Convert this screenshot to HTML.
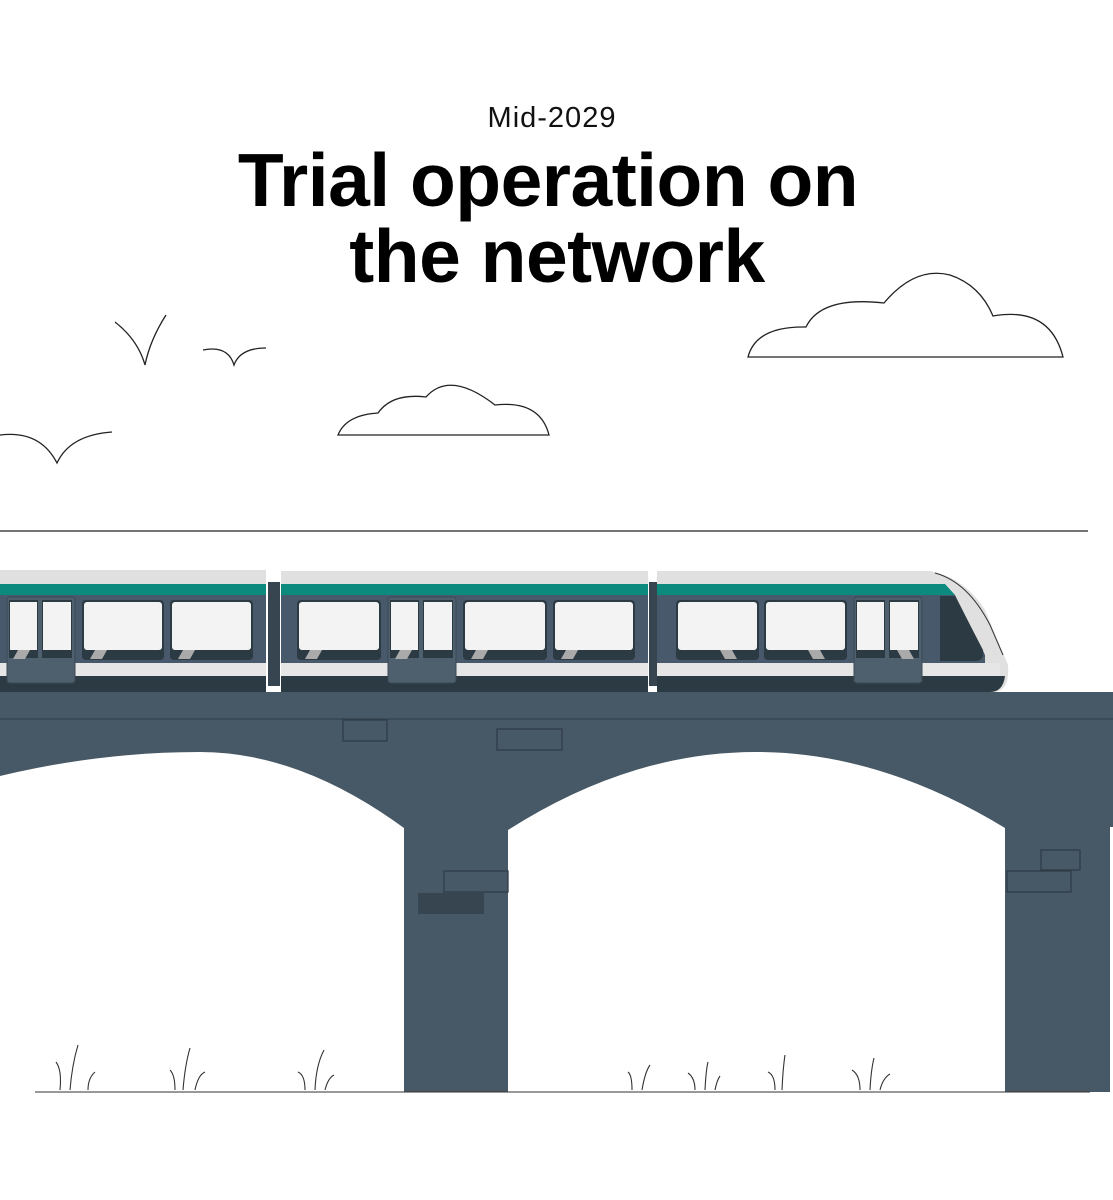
<!DOCTYPE html>
<html><head><meta charset="utf-8"><style>
html,body{margin:0;padding:0;background:#fff;width:1113px;height:1200px;overflow:hidden}
</style></head><body>
<svg width="1113" height="1200" viewBox="0 0 1113 1200" xmlns="http://www.w3.org/2000/svg">
<rect width="1113" height="1200" fill="#fff"/>
<text x="552" y="127" text-anchor="middle" font-family="Liberation Sans, sans-serif" font-size="29" letter-spacing="1" fill="#111">Mid-2029</text>
<text x="548" y="206" text-anchor="middle" font-family="Liberation Sans, sans-serif" font-weight="bold" font-size="75" fill="#000" letter-spacing="-0.5">Trial operation on</text>
<text x="557" y="282" text-anchor="middle" font-family="Liberation Sans, sans-serif" font-weight="bold" font-size="75" fill="#000" letter-spacing="-0.5">the network</text>
<g fill="none" stroke="#222" stroke-width="1.3">
<path d="M115 322 Q138 340 145 365 Q150 340 166 315"/>
<path d="M203 350 Q228 345 234 365 Q240 348 266 348"/>
<path d="M0 435 Q40 430 57 463 Q70 435 112 432"/>
<line x1="0" y1="531" x2="1088" y2="531"/>
</g>
<path d="M748 357 Q756 326 806 327 Q821 296 884 303 Q915 266 950 275 Q980 285 993 316 Q1050 306 1063 357 Z" fill="#fff" stroke="#222" stroke-width="1.3"/>
<path d="M338 435 Q346 415 378 413 Q392 393 426 397 Q450 370 495 405 Q540 400 549 435 Z" fill="#fff" stroke="#222" stroke-width="1.3"/>
<!-- bridge -->
<path d="M0 692 H1113 V827 H1110 V1092 H1005 V828 Q880 752 756 752 Q630 752 508 830 V1092 H404 V828 Q300 752 200 752 Q100 752 0 776 Z" fill="#475966"/>
<line x1="0" y1="719" x2="1113" y2="719" stroke="#33424d" stroke-width="1.2"/>
<g fill="none" stroke="#2f3d47" stroke-width="1.3">
<rect x="343" y="720" width="44" height="21"/>
<rect x="497" y="729" width="65" height="21"/>
<rect x="444" y="871" width="64" height="21"/>
<rect x="1041" y="850" width="39" height="20"/>
<rect x="1007" y="871" width="64" height="21"/>
</g>
<rect x="418" y="893" width="66" height="21" fill="#36454f"/>
<!-- ground -->
<line x1="35" y1="1092" x2="1090" y2="1092" stroke="#333" stroke-width="1"/>
<g fill="none" stroke="#333" stroke-width="1.1">
<path d="M60 1090 Q62 1070 56 1062 M70 1090 Q72 1065 78 1045 M88 1090 Q88 1078 95 1072"/>
<path d="M175 1090 Q175 1075 170 1070 M183 1090 Q185 1065 190 1048 M195 1090 Q198 1075 205 1072"/>
<path d="M305 1090 Q305 1075 298 1072 M315 1090 Q316 1065 324 1050 M325 1090 Q328 1078 334 1075"/>
<path d="M632 1090 Q632 1075 628 1072 M642 1090 Q645 1072 650 1065"/>
<path d="M695 1090 Q695 1078 688 1073 M705 1090 Q706 1070 708 1062 M715 1090 Q717 1080 720 1076"/>
<path d="M775 1090 Q775 1075 768 1072 M782 1090 Q783 1068 785 1055"/>
<path d="M860 1090 Q860 1075 852 1070 M870 1090 Q871 1070 874 1058 M880 1090 Q883 1078 890 1074"/>
</g>
<!-- train -->
<g>
<rect x="0" y="570" width="266" height="14" fill="#e0e0e0"/>
<rect x="0" y="584" width="266" height="11" fill="#0b8a7d"/>
<rect x="0" y="595" width="266" height="68" fill="#47596a"/>
<rect x="0" y="663" width="266" height="13" fill="#e6e6e6"/>
<rect x="0" y="676" width="266" height="16" fill="#2c3a44"/>
<rect x="268" y="582" width="12" height="104" fill="#36454f"/>
<rect x="281" y="571" width="367" height="13" fill="#e0e0e0"/>
<rect x="281" y="584" width="367" height="11" fill="#0b8a7d"/>
<rect x="281" y="595" width="367" height="68" fill="#47596a"/>
<rect x="281" y="663" width="367" height="13" fill="#e6e6e6"/>
<rect x="281" y="676" width="367" height="16" fill="#2c3a44"/>
<rect x="649" y="582" width="8" height="104" fill="#36454f"/>
<path d="M657 571 H930 Q965 578 985 610 L1008 665 Q1010 690 995 692 H657 Z" fill="#e0e0e0"/>
<path d="M657 584 H945 L955 595 H657 Z" fill="#0b8a7d"/>
<path d="M657 595 H955 L985 655 V663 H657 Z" fill="#47596a"/>
<path d="M940 596 H955 L983 650 Q985 660 976 661 H940 Z" fill="#2c3a44"/>
<rect x="657" y="663" width="343" height="13" fill="#e6e6e6"/>
<path d="M657 676 H1005 Q1003 692 990 692 H657 Z" fill="#2c3a44"/>
<path d="M935 573 Q968 582 990 625 L1003 655" fill="none" stroke="#333" stroke-width="1"/>
</g>
<g fill="#4e606e" stroke="#3a4955" stroke-width="1">
<rect x="7" y="597" width="68" height="86" rx="3"/>
<rect x="388" y="597" width="68" height="86" rx="3"/>
<rect x="854" y="597" width="68" height="86" rx="3"/>
</g>
<g fill="#2c3a44">
<rect x="82" y="600" width="82" height="60" rx="4"/><rect x="170" y="600" width="83" height="60" rx="4"/>
<rect x="297" y="600" width="84" height="60" rx="4"/><rect x="463" y="600" width="84" height="60" rx="4"/><rect x="553" y="600" width="82" height="60" rx="4"/>
<rect x="676" y="600" width="83" height="60" rx="4"/><rect x="764" y="600" width="83" height="60" rx="4"/>
<rect x="9" y="600" width="29" height="58"/><rect x="42" y="600" width="30" height="58"/>
<rect x="390" y="600" width="29" height="58"/><rect x="423" y="600" width="30" height="58"/>
<rect x="856" y="600" width="29" height="58"/><rect x="889" y="600" width="30" height="58"/>
</g>
<g fill="#f3f3f3">
<rect x="84" y="602" width="78" height="48" rx="3"/><rect x="172" y="602" width="79" height="48" rx="3"/>
<rect x="299" y="602" width="80" height="48" rx="3"/><rect x="465" y="602" width="80" height="48" rx="3"/><rect x="555" y="602" width="78" height="48" rx="3"/>
<rect x="678" y="602" width="79" height="48" rx="3"/><rect x="766" y="602" width="79" height="48" rx="3"/>
<rect x="10" y="602" width="27" height="48"/><rect x="43" y="602" width="28" height="48"/>
<rect x="391" y="602" width="27" height="48"/><rect x="424" y="602" width="28" height="48"/>
<rect x="857" y="602" width="27" height="48"/><rect x="890" y="602" width="28" height="48"/>
</g>
<g fill="#aaa">
<path d="M95 650 h12 l-5 9 h-12z"/><path d="M183 650 h12 l-5 9 h-12z"/>
<path d="M310 650 h12 l-5 9 h-12z"/><path d="M476 650 h12 l-5 9 h-12z"/><path d="M566 650 h12 l-5 9 h-12z"/>
<path d="M720 650 h12 l5 9 h-12z"/><path d="M808 650 h12 l5 9 h-12z"/>
<path d="M18 650 h12 l-5 9 h-12z"/><path d="M400 650 h12 l-5 9 h-12z"/><path d="M897 650 h12 l5 9 h-12z"/>
</g>
</svg>
</body></html>
